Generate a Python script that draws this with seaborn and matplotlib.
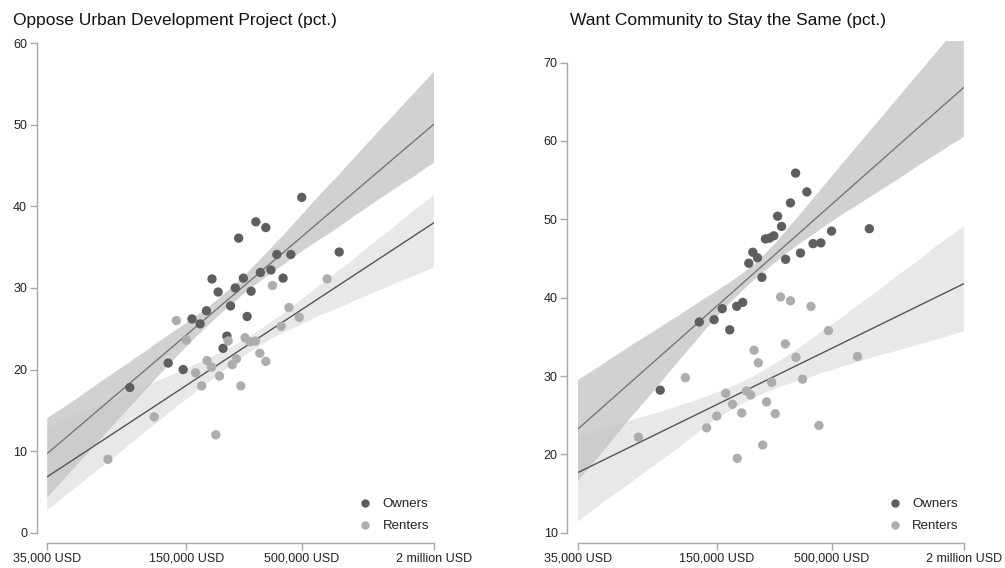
import numpy as np
import pandas as pd
import seaborn as sns
import matplotlib.pyplot as plt

# median home value (USD) and share of respondents (pct.)
opp_own_income = [501e3, 310e3, 344e3, 259e3, 386e3, 447e3, 741e3, 363e3, 325e3, 196e3,
                  272e3, 412e3, 250e3, 209e3, 295e3, 238e3, 185e3, 159e3, 173e3, 283e3,
                  229e3, 220e3, 124e3, 145e3, 83e3]
opp_own_pct = [41.1, 38.1, 37.4, 36.1, 34.1, 34.1, 34.4, 32.2, 31.9, 31.1,
               31.2, 31.2, 30.0, 29.5, 29.6, 27.8, 27.2, 26.2, 25.6, 26.5,
               24.1, 22.6, 20.8, 20.0, 17.8]
opp_rent_income = [369e3, 653e3, 438e3, 488e3, 404e3, 135e3, 150e3, 232e3, 277e3, 292e3,
                   309e3, 323e3, 344e3, 186e3, 253e3, 195e3, 242e3, 165e3, 212e3, 176e3,
                   265e3, 107e3, 204e3, 66e3]
opp_rent_pct = [30.3, 31.1, 27.6, 26.4, 25.3, 26.0, 23.6, 23.5, 23.9, 23.4,
                23.5, 22.0, 21.0, 21.1, 21.3, 20.3, 20.6, 19.6, 19.2, 18.0,
                18.0, 14.2, 12.0, 9.0]

same_own_income = [343e3, 386e3, 325e3, 284e3, 296e3, 743e3, 500e3, 250e3, 261e3, 273e3,
                   412e3, 447e3, 219e3, 230e3, 361e3, 210e3, 309e3, 241e3, 197e3, 185e3,
                   159e3, 125e3, 146e3, 172e3, 83e3]
same_own_pct = [55.9, 53.5, 52.1, 50.4, 49.1, 48.8, 48.5, 47.5, 47.6, 47.9,
                46.9, 47.0, 45.8, 45.1, 45.7, 44.4, 44.9, 42.6, 39.4, 38.9,
                38.6, 36.9, 37.2, 35.9, 28.2]
same_rent_income = [293e3, 325e3, 403e3, 484e3, 308e3, 222e3, 344e3, 232e3, 656e3, 108e3,
                    267e3, 369e3, 165e3, 205e3, 214e3, 177e3, 253e3, 195e3, 277e3, 150e3,
                    135e3, 438e3, 243e3, 186e3, 66e3]
same_rent_pct = [40.1, 39.6, 38.9, 35.8, 34.1, 33.3, 32.4, 31.7, 32.5, 29.8,
                 29.2, 29.6, 27.8, 28.1, 27.6, 26.4, 26.7, 25.3, 25.2, 24.9,
                 23.4, 23.7, 21.2, 19.5, 22.2]

groups = ['Owners', 'Renters']
tick_values = [35000, 150000, 500000, 2000000]
tick_labels = ['35,000 USD', '150,000 USD', '500,000 USD', '2 million USD']
titles = ['Oppose Urban Development Project (pct.)', 'Want Community to Stay the Same (pct.)']

sns.set_theme(style='white')
plt.rcParams['font.family'] = ['Liberation Sans', 'DejaVu Sans']

point_colors = {'Owners': '#5e5e5e', 'Renters': '#adadad'}
band_colors = {'Owners': ('#9a9a9a', 0.45), 'Renters': ('#c4c4c4', 0.38)}
line_colors = {'Owners': '#777777', 'Renters': '#555555'}


def make_df(own_x, own_y, rent_x, rent_y):
    df = pd.DataFrame({
        'income': own_x + rent_x,
        'pct': own_y + rent_y,
        'group': ['Owners'] * len(own_x) + ['Renters'] * len(rent_x),
    })
    df['log_income'] = np.log10(df['income'])
    return df


panels = [
    make_df(opp_own_income, opp_own_pct, opp_rent_income, opp_rent_pct),
    make_df(same_own_income, same_own_pct, same_rent_income, same_rent_pct),
]

fig = plt.figure(figsize=(10.05, 5.68), dpi=100)
ax1 = fig.add_axes([0.047, 0.062, 0.385, 0.865])
ax2 = fig.add_axes([0.575, 0.062, 0.384, 0.865])
axes = [ax1, ax2]
ylims = [(0, 60.2), (10, 72.7)]
yticks = [range(0, 61, 10), range(10, 71, 10)]
xlim = (np.log10(35000), np.log10(2000000))

for ax, df, ylim, yt in zip(axes, panels, ylims, yticks):
    ax.set_xlim(*xlim)
    ax.set_ylim(*ylim)
    for g in groups:
        sub = df[df['group'] == g]
        n_before = len(ax.collections)
        sns.regplot(data=sub, x='log_income', y='pct', ax=ax, scatter=False,
                    truncate=False, ci=88, seed=7,
                    line_kws={'color': line_colors[g], 'lw': 1.0})
        for coll in ax.collections[n_before:]:
            coll.set_facecolor(band_colors[g][0])
            coll.set_alpha(band_colors[g][1])
            coll.set_edgecolor('none')
    sns.scatterplot(data=df, x='log_income', y='pct', hue='group', hue_order=groups,
                    palette=point_colors, s=45, linewidth=0, ax=ax, zorder=5)
    ax.set_xlim(*xlim)
    ax.set_ylim(*ylim)
    ax.set_xticks(np.log10(tick_values))
    ax.set_xticklabels(tick_labels)
    ax.set_yticks(list(yt))
    ax.set_xlabel('')
    ax.set_ylabel('')
    sns.despine(ax=ax, offset=7.5, trim=True)
    for side in ['left', 'bottom']:
        ax.spines[side].set_color('#a8a8a8')
        ax.spines[side].set_linewidth(1.0)
    ax.tick_params(axis='both', direction='out', length=5, width=1, color='#a8a8a8',
                   labelsize=9, labelcolor='#222222', pad=2, left=True, bottom=True)
    leg = ax.legend(loc='lower right', frameon=False, fontsize=9.5, handletextpad=0.3,
                    borderaxespad=0.0, labelspacing=0.75, markerscale=0.9,
                    bbox_to_anchor=(1.0, -0.01))
    for t in leg.get_texts():
        t.set_color('#222222')

fig.text(0.013, 0.964, titles[0], fontsize=12.5, color='#111111', va='center', ha='left')
fig.text(0.567, 0.964, titles[1], fontsize=12.5, color='#111111', va='center', ha='left')

fig.savefig('out.png', dpi=100)
